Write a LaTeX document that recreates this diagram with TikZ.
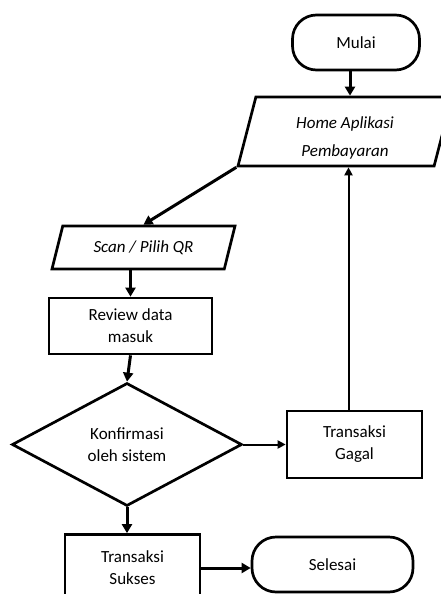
\documentclass[tikz,border=0pt]{standalone}
\usepackage{fontspec}
\setmainfont{Carlito}
\usetikzlibrary{shapes.geometric,arrows.meta}
\tikzset{
  flow/.style={draw, line width=2.7pt, align=center, inner sep=2pt,
    font=\fontsize{17}{22}\selectfont},
  terminal/.style={flow, rectangle, rounded corners=24pt, minimum height=55pt},
  io/.style={flow, trapezium, trapezium left angle=75, trapezium right angle=105,
    trapezium stretches body, font=\fontsize{17}{28}\selectfont\itshape},
  process/.style={flow, rectangle},
  decision/.style={flow, diamond, aspect=1.87, inner sep=0pt},
  arr/.style={line width=3pt, -{Triangle[length=9pt,width=10pt]}},
  thinarr/.style={line width=2pt, -{Triangle[length=8pt,width=8pt]}}
}

\begin{document}
\begin{tikzpicture}[x=1pt, y=-1pt]
\path[use as bounding box, clip] (0,0) rectangle (441,594);

\node[terminal, minimum width=127pt] (mulai) at (356,42.5) {Mulai};
\node[io, inner ysep=6pt, minimum width=214pt, minimum height=69pt] (home) at (345,131.5)
  {\rule{0pt}{24pt}Home Aplikasi\\Pembayaran};
\node[io, inner ysep=13pt, minimum width=183pt, minimum height=43pt] (scan) at (143.5,247.5)
  {Scan / Pilih QR};
\node[process, minimum width=163pt, minimum height=56pt] (review) at (130.5,326)
  {Review data\\masuk};
\node[decision, minimum width=230pt, minimum height=123pt] (konf) at (127,444.5)
  {Konfirmasi\\oleh sistem};
\node[process, minimum width=135pt, minimum height=67pt] (gagal) at (354.5,444.5)
  {Transaksi\\Gagal};
\node[process, minimum width=135pt, minimum height=67pt] (sukses) at (132.5,568)
  {Transaksi\\Sukses};
\node[terminal, minimum width=161pt] (selesai) at (332.5,564.5) {Selesai};

% alur utama
\draw[arr] ([xshift=-6pt]mulai.south) -- ([xshift=-6pt]mulai.south |- home.north);
\draw[arr] (home.bottom left corner) -- (scan.north);
\draw[arr] (review.north |- scan.south) -- (review.north);
\draw[arr] (review.south) -- (konf.north);
\draw[thinarr] (konf.east) -- (gagal.west);
\draw[thinarr] ([xshift=-6pt]gagal.north) -- ([xshift=-6pt]gagal.north |- home.south);
\draw[arr] (konf.south) -- (konf.south |- sukses.north);
\draw[arr] (sukses.east) -- (sukses.east -| selesai.west);
\end{tikzpicture}
\end{document}
